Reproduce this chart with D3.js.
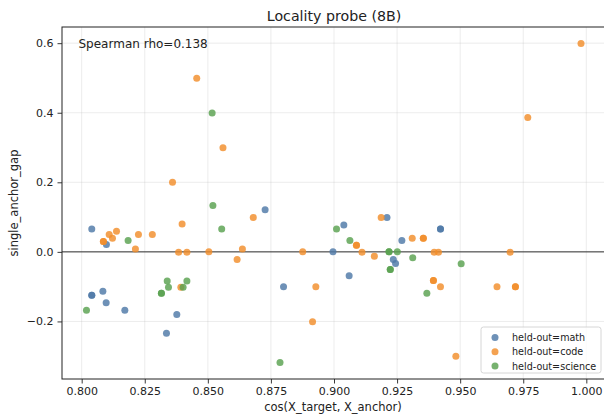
<!DOCTYPE html>
<html><head><meta charset="utf-8">
<script src="https://cdn.jsdelivr.net/npm/d3@7"></script>
<style>body{margin:0;background:#fff}svg{display:block}text{font-family:"DejaVu Sans",sans-serif;fill:#222}</style>
</head><body><div id="chart"></div>
<script>
const seriesNames = ["held-out=math", "held-out=code", "held-out=science"];
const seriesColors = ["#4e79a7", "#f28e2b", "#59a14f"];

const mathX = [0.8040, 0.8098, 0.8040, 0.8040, 0.8084, 0.8097, 0.8171, 0.8377, 0.8336, 0.8727, 0.8800, 0.8996, 0.9039, 0.9060, 0.9210, 0.9235, 0.9244, 0.9269, 0.9422, 0.9422];
const mathY = [0.066, 0.021, -0.1245, -0.1245, -0.113, -0.146, -0.168, -0.180, -0.234, 0.121, -0.100, 0.000, 0.0775, -0.069, 0.099, -0.022, -0.0336, 0.0324, 0.066, 0.066];

const codeX = [0.8086, 0.8086, 0.8109, 0.8122, 0.8138, 0.8213, 0.8225, 0.8280, 0.8360, 0.8398, 0.8384, 0.8393, 0.8417, 0.8456, 0.8504, 0.8560, 0.8616, 0.8637, 0.8680, 0.8876, 0.8915, 0.8928, 0.9089, 0.9089, 0.9111, 0.9160, 0.9187, 0.9310, 0.9354, 0.9354, 0.9394, 0.9394, 0.9397, 0.9414, 0.9422, 0.9483, 0.9646, 0.9698, 0.9719, 0.9719, 0.9768, 0.9979];
const codeY = [0.0296, 0.0296, 0.0496, 0.039, 0.059, 0.0086, 0.0496, 0.0496, 0.200, 0.080, -0.001, -0.1015, -0.001, 0.499, 0.000, 0.299, -0.022, 0.0086, 0.099, 0.000, -0.201, -0.100, 0.019, 0.019, -0.001, -0.0126, 0.099, 0.039, 0.039, 0.039, -0.082, -0.082, -0.001, -0.001, -0.100, -0.300, -0.100, -0.001, -0.100, -0.100, 0.386, 0.599];

const scienceX = [0.8019, 0.8184, 0.8316, 0.8316, 0.8339, 0.8344, 0.8402, 0.8417, 0.8517, 0.8520, 0.8555, 0.8786, 0.9010, 0.9063, 0.9218, 0.9218, 0.9223, 0.9223, 0.9251, 0.9312, 0.9368, 0.9504];
const scienceY = [-0.168, 0.0324, -0.119, -0.119, -0.084, -0.1015, -0.1015, -0.084, 0.399, 0.133, 0.066, -0.318, 0.066, 0.0324, 0.000, 0.000, -0.051, -0.051, 0.000, -0.017, -0.119, -0.034];

const xTicks = [0.800, 0.825, 0.850, 0.875, 0.900, 0.925, 0.950, 0.975, 1.000];
const yTicks = [-0.2, 0.0, 0.2, 0.4, 0.6];
const titleText = "Locality probe (8B)";
const xLabel = "cos(X_target, X_anchor)";
const yLabel = "single_anchor_gap";
const annotation = "Spearman rho=0.138";

const W = 604, H = 415;
const L = 62, R = 606, T = 27, B = 379;
const svg = d3.select("#chart").append("svg").attr("width", W).attr("height", H);
const x = d3.scaleLinear().domain([0.7922, 1.0078]).range([L, R]);
const y = d3.scaleLinear().domain([-0.3655, 0.6465]).range([B, T]);

// grid
const grid = svg.append("g");
grid.selectAll(".gx").data(xTicks).join("line")
  .attr("x1", d => x(d)).attr("x2", d => x(d)).attr("y1", T).attr("y2", B)
  .attr("stroke", "#b0b0b0").attr("stroke-opacity", 0.3).attr("stroke-width", 0.8);
grid.selectAll(".gy").data(yTicks).join("line")
  .attr("x1", L).attr("x2", R).attr("y1", d => y(d)).attr("y2", d => y(d))
  .attr("stroke", "#b0b0b0").attr("stroke-opacity", 0.3).attr("stroke-width", 0.8);

// zero line
svg.append("line").attr("x1", L).attr("x2", R).attr("y1", y(0)).attr("y2", y(0))
  .attr("stroke", "#333").attr("stroke-width", 1);

// points
const series = [[mathX, mathY], [codeX, codeY], [scienceX, scienceY]];
series.forEach((s, i) => {
  svg.append("g").selectAll("circle").data(s[0].map((v, j) => [v, s[1][j]])).join("circle")
    .attr("cx", d => x(d[0])).attr("cy", d => y(d[1])).attr("r", 3.5)
    .attr("fill", seriesColors[i]).attr("fill-opacity", 0.82);
});

// axes
const fmtX = d3.format(".3f");
const fmtY = v => d3.format(".1f")(v).replace("-", "\u2212");
const xAxis = svg.append("g").attr("transform", `translate(0,${B})`)
  .call(d3.axisBottom(x).tickValues(xTicks).tickFormat(fmtX).tickSize(4.5).tickPadding(4));
const yAxis = svg.append("g").attr("transform", `translate(${L},0)`)
  .call(d3.axisLeft(y).tickValues(yTicks).tickFormat(fmtY).tickSize(4.5).tickPadding(4));
[xAxis, yAxis].forEach(a => {
  a.select(".domain").remove();
  a.selectAll("line").attr("stroke", "#222").attr("stroke-width", 0.9);
  a.selectAll("text").attr("font-size", "11px").attr("fill", "#222").style("font-family", "DejaVu Sans");
});

// frame
svg.append("rect").attr("x", L).attr("y", T).attr("width", R - L).attr("height", B - T)
  .attr("fill", "none").attr("stroke", "#222").attr("stroke-width", 1);

// labels
svg.append("text").attr("x", 334).attr("y", 21).attr("text-anchor", "middle")
  .attr("font-size", "14.2px").text(titleText);
svg.append("text").attr("x", 333).attr("y", 411).attr("text-anchor", "middle")
  .attr("font-size", "11.5px").text(xLabel);
svg.append("text").attr("transform", `translate(18,${(T + B) / 2}) rotate(-90)`).attr("text-anchor", "middle")
  .attr("font-size", "11.5px").text(yLabel);
svg.append("text").attr("x", 78.5).attr("y", 48).attr("font-size", "12px").text(annotation);

// legend
const lg = svg.append("g");
lg.append("rect").attr("x", 481).attr("y", 327).attr("width", 120).attr("height", 46).attr("rx", 2.5)
  .attr("fill", "#fff").attr("fill-opacity", 0.8).attr("stroke", "#ccc").attr("stroke-width", 0.8);
seriesNames.forEach((n, i) => {
  const yy = 337.5 + i * 14.2;
  lg.append("circle").attr("cx", 495).attr("cy", yy).attr("r", 3.5).attr("fill", seriesColors[i]).attr("fill-opacity", 0.82);
  lg.append("text").attr("x", 512).attr("y", yy + 3.6).attr("font-size", "9.6px").text(n);
});
</script></body></html>
